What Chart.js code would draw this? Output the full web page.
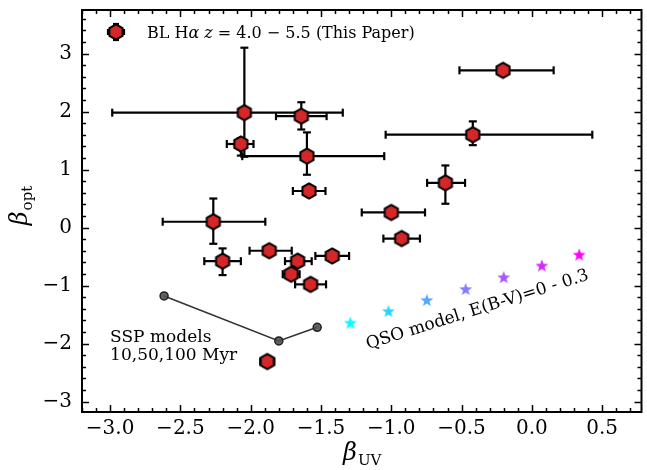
<!DOCTYPE html>
<html>
<head>
<meta charset="utf-8">
<script src="https://cdn.jsdelivr.net/npm/chart.js@4"></script>
<style>
  html, body { margin: 0; padding: 0; background: #fff; }
  canvas { display: block; }
</style>
</head>
<body>
<canvas id="chart" width="647" height="470"></canvas>
<script>
// BL Halpha sample, z = 4.0 - 5.5
const betaUV   = [-0.205, -0.42, -0.615, -2.045, -1.64, -2.07, -1.60, -1.585, -2.266, -2.20, -1.868, -1.666, -1.712, -1.574, -1.42, -1.882, -1.00, -0.926]
const betaOpt  = [ 2.71,  1.60,  0.77,  1.98,  1.92,  1.44,  1.23,  0.63,  0.10, -0.58, -0.40, -0.58, -0.805, -0.98, -0.49, -2.31,  0.26, -0.19]
const uvErrLo  = [ 0.31,  0.62,  0.13,  0.94,  0.18,  0.10,  0.46,  0.115, 0.36,  0.13,  0.14,  0.09,  0.06,  0.11,  0.12,  0.05,  0.21,  0.13]
const uvErrHi  = [ 0.36,  0.85,  0.14,  0.70,  0.18,  0.09,  0.55,  0.117, 0.37,  0.13,  0.16,  0.10,  0.06,  0.11,  0.12,  0.05,  0.24,  0.13]
const optErrLo = [ 0,     0.18,  0.36,  0.76,  0.23,  0.20,  0.32,  0,     0.38,  0.24,  0,     0,     0,     0,     0,     0,     0,     0]
const optErrHi = [ 0,     0.23,  0.30,  1.12,  0.24,  0.10,  0.41,  0,     0.40,  0.22,  0,     0,     0,     0,     0,     0,     0,     0]

// SSP models, 10, 50, 100 Myr
const sspUV  = [-2.616, -1.80, -1.527]
const sspOpt = [-1.18, -1.955, -1.72]

// QSO model, E(B-V) = 0 - 0.3
const qsoEBV = [0, 0.05, 0.10, 0.15, 0.20, 0.25, 0.30]
const qsoUV  = [-1.291, -1.020, -0.747, -0.471, -0.200, 0.071, 0.337]
const qsoOpt = [-1.64, -1.44, -1.25, -1.06, -0.857, -0.655, -0.466]

const xTicks = { min: -3.2, max: 0.78, step: 0.5, minor: 0.1 }
const yTicks = { min: -3.18, max: 3.75, step: 1, minor: 0.2 }

const FONT = 'DejaVu Serif'

// markers
function makeHexagon() {
    const c = document.createElement('canvas')
    c.width = 20; c.height = 20
    const g = c.getContext('2d')
    g.beginPath()
    for (let k = 0; k < 6; k++) {
        const a = -Math.PI / 2 + k * Math.PI / 3
        const px = 10 + 7.6 * Math.cos(a), py = 10 + 7.6 * Math.sin(a)
        if (k) g.lineTo(px, py); else g.moveTo(px, py)
    }
    g.closePath()
    g.fillStyle = '#d62728'
    g.fill()
    g.lineWidth = 2
    g.strokeStyle = '#000'
    g.stroke()
    return c
}

function makeStar(color) {
    const c = document.createElement('canvas')
    c.width = 16; c.height = 16
    const g = c.getContext('2d')
    g.beginPath()
    for (let k = 0; k < 10; k++) {
        const r = k % 2 ? 2.8 : 6.8
        const a = -Math.PI / 2 + k * Math.PI / 5
        const px = 8 + r * Math.cos(a), py = 8.6 + r * Math.sin(a)
        if (k) g.lineTo(px, py); else g.moveTo(px, py)
    }
    g.closePath()
    g.fillStyle = color
    g.fill()
    return c
}

// matplotlib "cool" colormap
function cool(t) {
    return 'rgb(' + Math.round(255 * t) + ',' + Math.round(255 * (1 - t)) + ',255)'
}

const hex = makeHexagon()
const stars = qsoEBV.map(e => makeStar(cool(e / 0.3)))

function fmtX(v) {
    const s = Math.abs(v).toFixed(1)
    return (v < -1e-9 ? '\u2212' : '') + s
}
function fmtY(v) {
    return (v < -1e-9 ? '\u2212' : '') + Math.abs(Math.round(v))
}

function line(ctx, x0, y0, x1, y1) {
    ctx.beginPath()
    ctx.moveTo(x0, y0)
    ctx.lineTo(x1, y1)
    ctx.stroke()
}

// no automatic label overhang padding, the frame sits where we put it
function noPad(s) {
    s.paddingTop = 0
    s.paddingBottom = 0
    s.paddingLeft = 0
    s.paddingRight = 0
}

const decor = {
    id: 'decor',
    beforeDatasetsDraw(chart) {
        // error bars
        const { ctx, scales: { x, y } } = chart
        ctx.save()
        ctx.strokeStyle = '#000'
        ctx.lineWidth = 2.2
        const cap = 4
        for (let i = 0; i < betaUV.length; i++) {
            const px = x.getPixelForValue(betaUV[i])
            const py = y.getPixelForValue(betaOpt[i])
            if (uvErrLo[i] || uvErrHi[i]) {
                const x0 = x.getPixelForValue(betaUV[i] - uvErrLo[i])
                const x1 = x.getPixelForValue(betaUV[i] + uvErrHi[i])
                line(ctx, x0, py, x1, py)
                line(ctx, x0, py - cap, x0, py + cap)
                line(ctx, x1, py - cap, x1, py + cap)
            }
            if (optErrLo[i] || optErrHi[i]) {
                const y0 = y.getPixelForValue(betaOpt[i] - optErrLo[i])
                const y1 = y.getPixelForValue(betaOpt[i] + optErrHi[i])
                line(ctx, px, y0, px, y1)
                line(ctx, px - cap, y0, px + cap, y0)
                line(ctx, px - cap, y1, px + cap, y1)
            }
        }
        ctx.restore()
    },
    afterDatasetsDraw(chart) {
        const { ctx, scales: { x, y } } = chart
        ctx.save()
        ctx.fillStyle = '#000'
        // SSP note
        ctx.font = '17px ' + FONT
        ctx.textAlign = 'left'
        ctx.textBaseline = 'alphabetic'
        const sx = x.getPixelForValue(-3.0)
        ctx.fillText('SSP models', sx, y.getPixelForValue(-1.98))
        ctx.fillText('10,50,100 Myr', sx, y.getPixelForValue(-2.29))
        // QSO note
        ctx.translate(x.getPixelForValue(-0.378), y.getPixelForValue(-1.495))
        ctx.rotate(-17.5 * Math.PI / 180)
        ctx.textAlign = 'center'
        ctx.font = '17px ' + FONT
        ctx.fillText('QSO model, E(B-V)=0 - 0.3', 0, 0)
        ctx.restore()
    },
    afterDraw(chart) {
        const { ctx, chartArea: a, scales: { x, y } } = chart
        ctx.save()
        ctx.strokeStyle = '#000'
        // ticks, inward on all four sides
        ctx.lineWidth = 1.5
        const n0 = Math.ceil(xTicks.min / xTicks.minor - 1e-6), n1 = Math.floor(xTicks.max / xTicks.minor + 1e-6)
        for (let n = n0; n <= n1; n++) {
            const v = n * xTicks.minor
            const major = Math.abs(v / xTicks.step - Math.round(v / xTicks.step)) < 1e-6
            const len = major ? 7 : 4
            const px = Math.round(x.getPixelForValue(v)) + 0.5
            line(ctx, px, a.bottom, px, a.bottom - len)
            line(ctx, px, a.top, px, a.top + len)
        }
        const m0 = Math.ceil(yTicks.min / yTicks.minor - 1e-6), m1 = Math.floor(yTicks.max / yTicks.minor + 1e-6)
        for (let n = m0; n <= m1; n++) {
            const v = n * yTicks.minor
            const major = Math.abs(v / yTicks.step - Math.round(v / yTicks.step)) < 1e-6
            const len = major ? 7 : 4
            const py = Math.round(y.getPixelForValue(v)) + 0.5
            line(ctx, a.left, py, a.left + len, py)
            line(ctx, a.right, py, a.right - len, py)
        }
        // frame
        ctx.lineWidth = 2
        ctx.strokeRect(a.left, a.top, a.right - a.left, a.bottom - a.top)

        // legend
        const lx = 116, ly = 32
        ctx.lineWidth = 2.2
        line(ctx, lx - 8, ly, lx + 8, ly)
        line(ctx, lx, ly - 8, lx, ly + 8)
        line(ctx, lx - 8, ly - 3, lx - 8, ly + 3)
        line(ctx, lx + 8, ly - 3, lx + 8, ly + 3)
        line(ctx, lx - 3, ly - 8, lx + 3, ly - 8)
        line(ctx, lx - 3, ly + 8, lx + 3, ly + 8)
        ctx.drawImage(hex, lx - 10, ly - 10)
        ctx.fillStyle = '#000'
        ctx.textAlign = 'left'
        ctx.textBaseline = 'alphabetic'
        let tx = 147
        const parts = [
            ['BL H', ''], ['\u03b1', 'italic '], [' ', ''], ['z', 'italic '],
            [' = 4.0 \u2212 5.5 (This Paper)', '']
        ]
        for (const [s, st] of parts) {
            ctx.font = st + '16px ' + FONT
            ctx.fillText(s, tx, 38)
            tx += ctx.measureText(s).width
        }

        // axis titles
        const cx = (a.left + a.right) / 2
        ctx.font = 'italic 24px ' + FONT
        const wb = ctx.measureText('\u03b2').width
        ctx.font = '15px ' + FONT
        const ws = ctx.measureText('UV').width
        let bx = cx - (wb + ws) / 2
        ctx.font = 'italic 24px ' + FONT
        ctx.fillText('\u03b2', bx, 460)
        ctx.font = '15px ' + FONT
        ctx.fillText('UV', bx + wb + 1, 465)

        ctx.translate(27, 206)
        ctx.rotate(-Math.PI / 2)
        ctx.font = 'italic 24px ' + FONT
        const wb2 = ctx.measureText('\u03b2').width
        ctx.font = '15px ' + FONT
        const ws2 = ctx.measureText('opt').width
        bx = -(wb2 + ws2) / 2
        ctx.font = 'italic 24px ' + FONT
        ctx.fillText('\u03b2', bx, 0)
        ctx.font = '15px ' + FONT
        ctx.fillText('opt', bx + wb2 + 1, 5)
        ctx.restore()
    }
}

const ctx = document.getElementById('chart').getContext('2d')

new Chart(ctx, {
    type: 'scatter',
    data: {
        datasets: [
            {
                label: 'BL H\u03b1 z = 4.0 \u2212 5.5 (This Paper)',
                data: betaUV.map((v, i) => ({ x: v, y: betaOpt[i] })),
                pointStyle: hex
            },
            {
                label: 'SSP models',
                data: sspUV.map((v, i) => ({ x: v, y: sspOpt[i] })),
                showLine: true,
                borderColor: '#333',
                borderWidth: 1.6,
                pointRadius: 4,
                pointBackgroundColor: 'rgba(80,80,80,0.9)',
                pointBorderColor: '#222',
                pointBorderWidth: 1.5
            },
            {
                label: 'QSO model',
                data: qsoUV.map((v, i) => ({ x: v, y: qsoOpt[i] })),
                pointStyle: stars
            }
        ]
    },
    options: {
        responsive: false,
        animation: false,
        devicePixelRatio: 1,
        layout: { padding: { top: 10, right: 2, left: 0, bottom: 0 } },
        plugins: {
            legend: { display: false },
            tooltip: { enabled: false }
        },
        scales: {
            x: {
                type: 'linear',
                min: xTicks.min,
                max: xTicks.max,
                grid: { display: false, drawTicks: false },
                border: { display: false },
                ticks: {
                    stepSize: xTicks.step,
                    includeBounds: false,
                    autoSkip: false,
                    maxRotation: 0,
                    padding: 5,
                    color: '#000',
                    font: { family: FONT, size: 20 },
                    callback: v => fmtX(v)
                },
                afterFit: s => { s.height = 58; noPad(s) }
            },
            y: {
                type: 'linear',
                min: yTicks.min,
                max: yTicks.max,
                grid: { display: false, drawTicks: false },
                border: { display: false },
                ticks: {
                    stepSize: yTicks.step,
                    includeBounds: false,
                    autoSkip: false,
                    padding: 10,
                    color: '#000',
                    font: { family: FONT, size: 20 },
                    callback: v => fmtY(v)
                },
                afterFit: s => { s.width = 82; noPad(s) }
            }
        }
    },
    plugins: [decor]
})
</script>
</body>
</html>
